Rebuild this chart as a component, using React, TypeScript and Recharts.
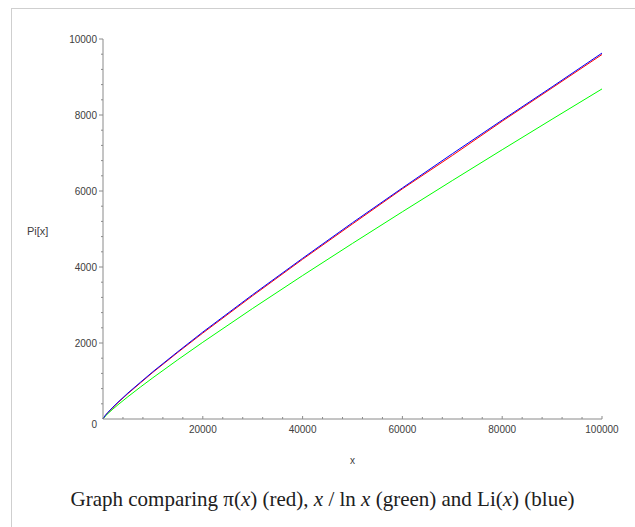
import React from 'react';
import { LineChart, Line, XAxis, YAxis } from 'recharts';

const xValues = [2, 100, 500, 1000, 2000, 3000, 5000, 7500, 10000, 15000, 20000, 30000, 40000, 50000, 60000, 70000, 80000, 90000, 100000];
const piValues = [1, 25, 95, 168, 303, 430, 669, 950, 1229, 1754, 2262, 3245, 4203, 5133, 6057, 6935, 7837, 8713, 9592];
const xOverLnX = [2.9, 21.7, 80.5, 144.8, 263.1, 374.7, 587.0, 840.6, 1085.7, 1559.9, 2019.5, 2910.1, 3774.8, 4621.2, 5453.5, 6274.5, 7086.0, 7889.5, 8685.9];
const liValues = [0, 29.1, 100.8, 176.6, 313.8, 442, 684.3, 967, 1245.1, 1773, 2288, 3273, 4229, 5166, 6081, 6980, 7866, 8741, 9629.8];

const xTicks = [0, 4000, 8000, 12000, 16000, 20000, 24000, 28000, 32000, 36000, 40000, 44000, 48000, 52000, 56000, 60000, 64000, 68000, 72000, 76000, 80000, 84000, 88000, 92000, 96000, 100000];
const xLabelTicks = [20000, 40000, 60000, 80000, 100000];
const yTicks = [0, 400, 800, 1200, 1600, 2000, 2400, 2800, 3200, 3600, 4000, 4400, 4800, 5200, 5600, 6000, 6400, 6800, 7200, 7600, 8000, 8400, 8800, 9200, 9600, 10000];
const yLabelTicks = [0, 2000, 4000, 6000, 8000, 10000];

const data = xValues.map((x, i) => ({ x, pi: piValues[i], xlnx: xOverLnX[i], li: liValues[i] }));

const AXIS_COLOR = '#8a8a8a';
const LABEL_COLOR = '#404040';
const TICK_FONT = 'Liberation Sans, Arial, sans-serif';

const XTick = (props: any) => {
  const { x, y, payload } = props;
  const v = payload.value;
  const major = xLabelTicks.includes(v);
  if (v === 0) return <g />;
  return (
    <g>
      <line x1={x} y1={y} x2={x} y2={y - (major ? 3 : 2)} stroke={AXIS_COLOR} strokeWidth={1} />
      {major && (
        <text x={x} y={y + 14} textAnchor="middle" fontSize={10} fontFamily={TICK_FONT} fill={LABEL_COLOR}>
          {v}
        </text>
      )}
    </g>
  );
};

const YTick = (props: any) => {
  const { x, y, payload } = props;
  const v = payload.value;
  const major = yLabelTicks.includes(v);
  return (
    <g>
      {v !== 0 && <line x1={x - (major ? 4 : 2)} y1={y} x2={x} y2={y} stroke={AXIS_COLOR} strokeWidth={1} />}
      {major && (
        <text x={x - 6} y={v === 0 ? y + 5 : y} dy="0.35em" textAnchor="end" fontSize={10} fontFamily={TICK_FONT} fill={LABEL_COLOR}>
          {v}
        </text>
      )}
    </g>
  );
};

export default function App() {
  return (
    <div style={{ position: 'absolute', left: 0, top: 0, width: 635, height: 527, overflow: 'hidden', background: '#fff' }}>
      <div style={{ position: 'absolute', left: 11, top: 8, width: 700, height: 600, borderLeft: '1px solid #cfcfcf', borderTop: '1px solid #cfcfcf' }} />
      <div style={{ position: 'absolute', left: 0, top: 0 }}>
        <LineChart width={635} height={527} data={data} margin={{ top: 39, right: 33, bottom: 58, left: 23 }}>
          <XAxis
            dataKey="x"
            type="number"
            domain={[0, 100000]}
            ticks={xTicks}
            interval={0}
            tickSize={0}
            tickMargin={0}
            tickLine={false}
            tick={<XTick />}
            height={50}
            axisLine={{ stroke: AXIS_COLOR, strokeWidth: 1 }}
            label={{ value: 'x', position: 'insideBottom', offset: 5, fontSize: 10, fontFamily: TICK_FONT, fill: LABEL_COLOR }}
          />
          <YAxis
            type="number"
            domain={[0, 10000]}
            ticks={yTicks}
            interval={0}
            tickSize={0}
            tickMargin={0}
            tickLine={false}
            tick={<YTick />}
            width={80}
            axisLine={{ stroke: AXIS_COLOR, strokeWidth: 1 }}
            label={{ value: 'Pi[x]', position: 'insideLeft', offset: 4, dy: 2, fontSize: 11, fontFamily: TICK_FONT, fill: LABEL_COLOR }}
          />
          <Line type="linear" dataKey="pi" stroke="#ff0000" strokeWidth={1} dot={false} isAnimationActive={false} />
          <Line type="linear" dataKey="xlnx" stroke="#00ff00" strokeWidth={1} dot={false} isAnimationActive={false} />
          <Line type="linear" dataKey="li" stroke="#0000ff" strokeWidth={1} dot={false} isAnimationActive={false} />
        </LineChart>
      </div>
      <div
        style={{
          position: 'absolute',
          left: 11,
          width: 623,
          top: 486,
          lineHeight: '26px',
          textAlign: 'center',
          fontFamily: '"Liberation Serif", "Times New Roman", serif',
          fontSize: 21,
          color: '#202020',
          whiteSpace: 'nowrap',
        }}
      >
        Graph comparing <span style={{ fontStyle: 'normal' }}>π</span>(<i>x</i>) (red), <i>x</i> / ln <i>x</i> (green) and Li(<i>x</i>) (blue)
      </div>
    </div>
  );
}
